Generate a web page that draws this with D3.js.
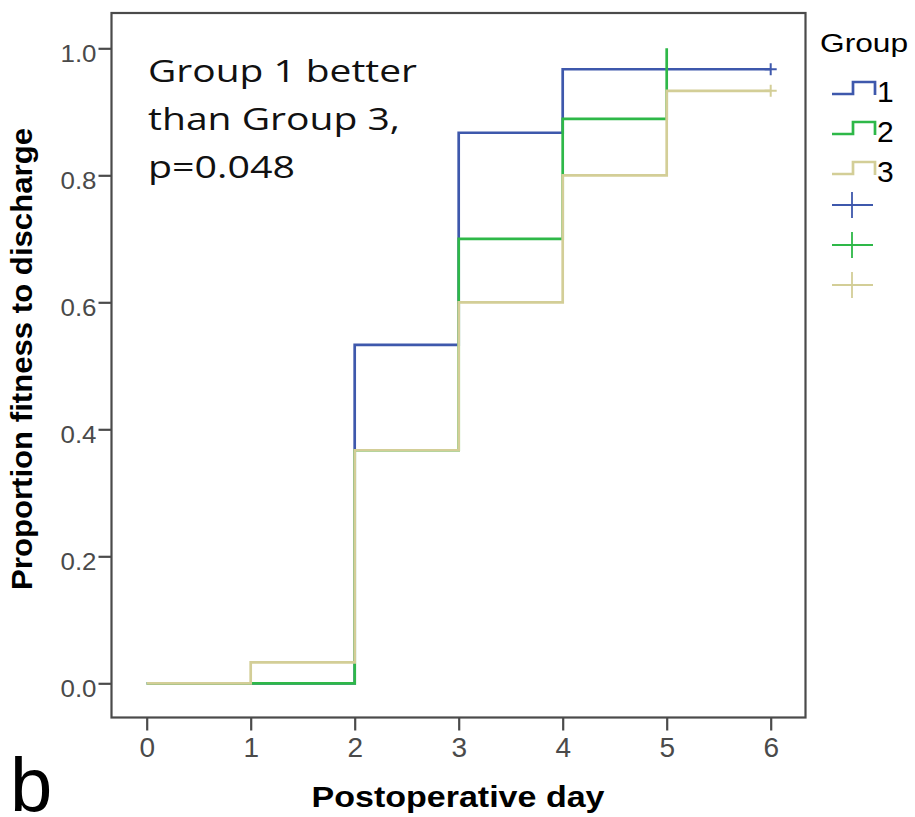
<!DOCTYPE html>
<html>
<head>
<meta charset="utf-8">
<script src="https://cdn.jsdelivr.net/npm/d3@7"></script>
<style>
  html, body { margin: 0; padding: 0; background: #fff; }
  svg { display: block; }
</style>
</head>
<body>
<svg id="chart" width="915" height="817"></svg>
<script>
// chart data
const days = [0, 1, 2, 3, 4, 5, 6];
const group1 = [0, 0, 0.533, 0.867, 0.967, 0.967, 0.967];
const group2 = [0, 0, 0.367, 0.7, 0.889, 1.0];
const group3 = [0, 0.033, 0.367, 0.6, 0.8, 0.933, 0.933];
const groupNames = ['1', '2', '3'];
const groupColors = ['#3e58ac', '#2eb848', '#d3ce97'];
const censoredAt = [6, null, 6];
const xTicks = [0, 1, 2, 3, 4, 5, 6];
const yTicks = [0, 0.2, 0.4, 0.6, 0.8, 1.0];
const noteLines = ['Group 1 better', 'than Group 3,', 'p=0.048'];

const series = [group1, group2, group3].map((vals, i) => ({
  name: groupNames[i],
  color: groupColors[i],
  censor: censoredAt[i],
  points: vals.map((v, j) => ({ day: days[j], p: v })),
}));

const svg = d3.select('#chart');
const box = { left: 111.5, right: 805.5, top: 13, bottom: 717.5 };

const x = d3.scaleLinear().domain([0, 6]).range([146.7, 770.7]);
const y = d3.scaleLinear().domain([0, 1]).range([683.3, 48.3]);

const sans = "'Liberation Sans', Arial, sans-serif";

// frame
svg.append('rect')
  .attr('x', box.left).attr('y', box.top)
  .attr('width', box.right - box.left).attr('height', box.bottom - box.top)
  .attr('fill', 'none').attr('stroke', '#4a4a4a').attr('stroke-width', 2.2);

// axes
const xAxis = svg.append('g')
  .attr('transform', `translate(0,${box.bottom})`)
  .call(d3.axisBottom(x).tickValues(xTicks).tickSize(13).tickPadding(7).tickFormat(d3.format('d')));
const yAxis = svg.append('g')
  .attr('transform', `translate(${box.left},0)`)
  .call(d3.axisLeft(y).tickValues(yTicks).tickSize(13).tickPadding(2).tickFormat(d3.format('.1f')));

[xAxis, yAxis].forEach(g => {
  g.select('.domain').remove();
  g.selectAll('.tick line').attr('stroke', '#4a4a4a').attr('stroke-width', 2.2);
  g.selectAll('.tick text').attr('fill', '#4a4a4a').style('font-family', sans);
});
xAxis.selectAll('.tick text').style('font-size', '28px');
yAxis.selectAll('.tick text')
  .style('font-size', '24px')
  .attr('dy', '0.56em')
  .attr('textLength', 36)
  .attr('lengthAdjust', 'spacingAndGlyphs');

// step curves
const line = d3.line()
  .x(d => x(d.day))
  .y(d => y(d.p))
  .curve(d3.curveStepAfter);

const curves = svg.append('g');
series.forEach(s => {
  curves.append('path')
    .datum(s.points)
    .attr('d', line)
    .attr('fill', 'none')
    .attr('stroke', s.color)
    .attr('stroke-width', 2.7);
  if (s.censor !== null) {
    const last = s.points[s.points.length - 1];
    const cx = x(s.censor), cy = y(last.p);
    curves.append('path')
      .attr('d', `M${cx},${cy - 6}V${cy + 6}M${cx - 6},${cy}H${cx + 6}`)
      .attr('stroke', s.color)
      .attr('stroke-width', 2);
  }
});

// annotation
svg.append('g')
  .selectAll('text')
  .data(noteLines)
  .join('text')
  .attr('x', 148)
  .attr('y', (d, i) => 82 + i * 48)
  .attr('textLength', (d, i) => [269, 252, 147][i])
  .attr('lengthAdjust', 'spacingAndGlyphs')
  .style('font-family', "'Open Sans', 'Noto Sans', sans-serif")
  .style('font-size', '31px')
  .attr('fill', '#111')
  .text(d => d);

// axis titles
svg.append('text')
  .attr('x', 458).attr('y', 807)
  .attr('text-anchor', 'middle')
  .attr('textLength', 293).attr('lengthAdjust', 'spacingAndGlyphs')
  .style('font-family', sans).style('font-weight', 'bold').style('font-size', '30px')
  .attr('fill', '#000')
  .text('Postoperative day');

svg.append('text')
  .attr('transform', 'translate(32,359) rotate(-90)')
  .attr('text-anchor', 'middle')
  .attr('textLength', 462).attr('lengthAdjust', 'spacingAndGlyphs')
  .style('font-family', sans).style('font-weight', 'bold').style('font-size', '30px')
  .attr('fill', '#000')
  .text('Proportion fitness to discharge');

// panel letter
svg.append('text')
  .attr('x', 10).attr('y', 811)
  .style('font-family', sans).style('font-size', '76px')
  .attr('fill', '#000')
  .text('b');

// legend
const legend = svg.append('g');
legend.append('text')
  .attr('x', 820).attr('y', 52)
  .attr('textLength', 88).attr('lengthAdjust', 'spacingAndGlyphs')
  .style('font-family', sans).style('font-size', '25px')
  .attr('fill', '#000')
  .text('Group');

series.forEach((s, i) => {
  const base = 102 + i * 40;
  legend.append('path')
    .attr('d', `M832,${base - 8}H853V${base - 20}H875V${base - 7}`)
    .attr('fill', 'none').attr('stroke', s.color).attr('stroke-width', 2.7);
  legend.append('text')
    .attr('x', 877).attr('y', base)
    .style('font-family', sans).style('font-size', '30px')
    .attr('fill', '#000')
    .text(s.name);
});
series.forEach((s, i) => {
  const cy = 205 + i * 40;
  legend.append('path')
    .attr('d', `M852,${cy - 13}V${cy + 13}M832,${cy}H873`)
    .attr('stroke', s.color).attr('stroke-width', 1.8);
});
</script>
</body>
</html>
